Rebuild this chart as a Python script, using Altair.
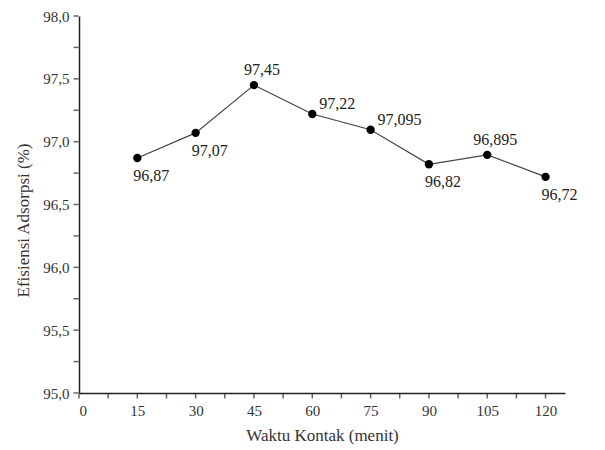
import altair as alt
import pandas as pd

waktu = [15, 30, 45, 60, 75, 90, 105, 120]
efisiensi = [96.87, 97.07, 97.45, 97.22, 97.095, 96.82, 96.895, 96.72]
posisi = ["below", "below", "above", "right", "right", "below", "above", "below"]
x_major = [0, 15, 30, 45, 60, 75, 90, 105, 120]
x_ticks = [0, 7.5, 15, 22.5, 30, 37.5, 45, 52.5, 60, 67.5, 75, 82.5, 90, 97.5, 105, 112.5, 120]
y_major = [95.0, 95.5, 96.0, 96.5, 97.0, 97.5, 98.0]
y_ticks = [95.0, 95.25, 95.5, 95.75, 96.0, 96.25, 96.5, 96.75, 97.0, 97.25, 97.5, 97.75, 98.0]
x_min, x_max = 0, 125
y_min, y_max = 95, 98

df = pd.DataFrame({
    "waktu": waktu,
    "efisiensi": efisiensi,
    "posisi": posisi,
    "label": [str(v).replace(".", ",") for v in efisiensi],
})
df_xt = pd.DataFrame({"waktu": x_ticks, "efisiensi": [y_min] * len(x_ticks)})
df_yt = pd.DataFrame({"waktu": [x_min] * len(y_ticks), "efisiensi": y_ticks})

FONT = "Liberation Serif"
INK = "#222"

x_enc = alt.X(
    "waktu:Q",
    scale=alt.Scale(domain=[x_min, x_max], nice=False, zero=False),
    axis=alt.Axis(
        title="Waktu Kontak (menit)",
        values=x_major,
        format="d",
        ticks=False,
        grid=False,
        labelPadding=10,
        titlePadding=9,
    ),
)
y_enc = alt.Y(
    "efisiensi:Q",
    scale=alt.Scale(domain=[y_min, y_max], nice=False, zero=False),
    axis=alt.Axis(
        title="Efisiensi Adsorpsi (%)",
        values=y_major,
        labelExpr="replace(format(datum.value, '.1f'), '.', ',')",
        ticks=False,
        grid=False,
        labelPadding=10,
        titlePadding=10,
        titleY=204,
    ),
)

base = alt.Chart(df)

line = base.mark_line(color="#444", strokeWidth=1.2).encode(x=x_enc, y=y_enc)
pts = base.mark_circle(color="black", size=70, opacity=1).encode(x="waktu:Q", y="efisiensi:Q")

xt = alt.Chart(df_xt).mark_tick(
    orient="vertical", size=5, thickness=1.5, color=INK, yOffset=3, clip=False
).encode(x="waktu:Q", y="efisiensi:Q")
yt = alt.Chart(df_yt).mark_tick(
    orient="horizontal", size=5, thickness=1.5, color=INK, xOffset=-3, clip=False
).encode(x="waktu:Q", y="efisiensi:Q")

txt_style = dict(font=FONT, fontSize=16, color=INK)
below = base.transform_filter("datum.posisi == 'below'").mark_text(
    align="left", baseline="middle", dx=-4, dy=18, **txt_style
).encode(x="waktu:Q", y="efisiensi:Q", text="label:N")
above = base.transform_filter("datum.posisi == 'above'").mark_text(
    align="center", baseline="middle", dx=8, dy=-15, **txt_style
).encode(x="waktu:Q", y="efisiensi:Q", text="label:N")
right = base.transform_filter("datum.posisi == 'right'").mark_text(
    align="left", baseline="middle", dx=7, dy=-10, **txt_style
).encode(x="waktu:Q", y="efisiensi:Q", text="label:N")

chart = (
    alt.layer(line, xt, yt, pts, below, above, right)
    .properties(
        width=486,
        height=377,
        autosize=alt.AutoSizeParams(type="none"),
        padding={"left": 79, "top": 16, "right": 40, "bottom": 57},
    )
    .configure_view(stroke=None)
    .configure_axis(
        labelFont=FONT,
        titleFont=FONT,
        labelFontSize=15,
        titleFontSize=17,
        titleFontWeight="normal",
        labelColor="#333",
        titleColor="#333",
        domainColor=INK,
        domainWidth=1.5,
    )
)

chart.save("out.html", embed_options={"renderer": "svg", "actions": False})
